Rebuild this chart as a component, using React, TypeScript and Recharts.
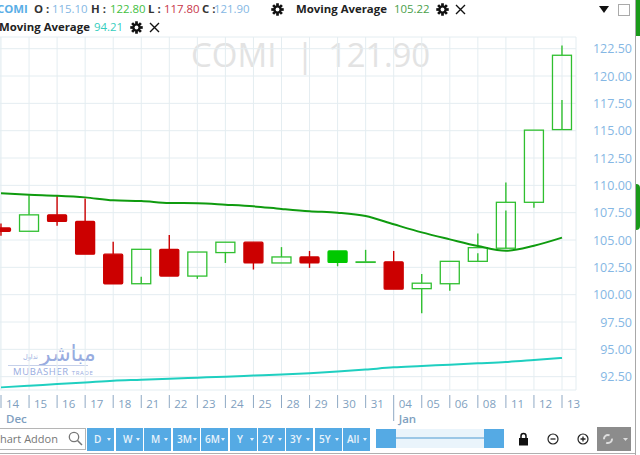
import React from "react";
import { ComposedChart, Bar, Line, XAxis, YAxis, CartesianGrid } from "recharts";

const days = ["14","15","16","17","18","21","22","23","24","25","28","29","30","31","04","05","06","08","11","12","13"];
const opens = [106.1,105.8,107.3,106.7,103.7,101,104.15,101.7,103.85,104.8,102.9,103.45,102.95,103,103,100.55,101,103.05,104.25,108.45,115.1];
const closes = [105.8,107.3,106.7,103.7,101,104.15,101.7,103.9,104.8,102.9,103.45,102.9,104,103,100.5,101.05,103.05,104.3,108.45,115.05,121.9];
const highs = [106.5,109.1,109.1,108.8,104.85,104.15,105.45,103.9,104.8,104.8,104.35,104,104,104.1,104,101.9,103.05,105.6,110.25,115.05,122.8];
const lows = [105.4,105.8,106.3,103.7,101,101,101.7,101.45,102.9,102.3,102.9,102.45,102.6,103,100.5,98.3,100.35,103.05,104.25,107.95,115.1];
const innerWicks = [0,0,0,0,0,101.65,0,0,0,0,0,0,0,0,0,0,0,103.8,107.7,0,117.8];
const maGreen = [109.27,109.14,109.05,108.9,108.63,108.57,108.39,108.36,108.23,108.08,107.84,107.63,107.5,107.2,106.44,105.7,105.06,104.45,104.02,104.48,105.22];
const maTeal = [91.52,91.67,91.82,91.97,92.13,92.22,92.32,92.41,92.5,92.6,92.7,92.82,92.97,93.15,93.35,93.47,93.6,93.72,93.84,94.02,94.21];
const priceTicks = [92.5,95,97.5,100,102.5,105,107.5,110,112.5,115,117.5,120,122.5];
const periods = ["D","W","M","3M","6M","Y","2Y","3Y","5Y","All"];
const periodLefts = [87,116,144,173,201,230,258,286,315,343];
const monthLabels: Record<string, string> = { "14": "Dec", "04": "Jan" };

const data = days.map((d, i) => ({
  day: d,
  range: [lows[i], highs[i]],
  open: opens[i],
  close: closes[i],
  high: highs[i],
  low: lows[i],
  inner: innerWicks[i],
  ma1: maGreen[i],
  ma2: maTeal[i],
  solid: d === "30",
}));

const FONT = "'Open Sans', sans-serif";
const UP = "#2fbf2f";
const DOWN = "#cc0000";
const BLUE = "#85b7e4";

function Candle(props: any) {
  const { x, y, width, height, payload } = props;
  const cx = x + width / 2;
  const unit = height / (payload.high - payload.low);
  const py = (v: number) => y + (payload.high - v) * unit;
  const up = payload.close >= payload.open;
  const color = up ? UP : DOWN;
  const bw = 19;
  const top = py(Math.max(payload.open, payload.close));
  const bottom = py(Math.min(payload.open, payload.close));
  const filled = !up || payload.solid;
  return (
    <g>
      <line x1={cx} x2={cx} y1={py(payload.high)} y2={top} stroke={color} strokeWidth={1.4} />
      <line x1={cx} x2={cx} y1={bottom} y2={py(payload.low)} stroke={color} strokeWidth={1.4} />
      {payload.inner ? (
        <line x1={cx} x2={cx} y1={bottom} y2={py(payload.inner)} stroke={color} strokeWidth={1.4} />
      ) : null}
      <rect
        x={cx - bw / 2}
        y={top}
        width={bw}
        height={Math.max(bottom - top, 0.5)}
        rx={filled ? 1 : 0}
        fill={filled ? (payload.solid ? "#00c800" : DOWN) : "none"}
        stroke={payload.solid ? "#00c800" : color}
        strokeWidth={1.3}
      />
    </g>
  );
}

function DayTick(props: any) {
  const { x, y, payload } = props;
  const month = monthLabels[payload.value];
  return (
    <g>
      <line x1={x} x2={x} y1={y - 3} y2={payload.value === "04" ? y + 23 : y + 10} stroke="#8fa9c4" strokeWidth={1} />
      <text x={x + 5} y={y + 10} fontSize={11.5} fontFamily={FONT} fill="#7f9fc0">{payload.value}</text>
      {month ? (
        <text x={x + 5} y={y + 25} fontSize={11.5} fontWeight={600} fontFamily={FONT} fill="#7f9fc0">{month}</text>
      ) : null}
    </g>
  );
}

function PriceTick(props: any) {
  const { y, payload } = props;
  return (
    <text x={632} y={y + 4.5} textAnchor="end" fontSize={12.5} fontFamily={FONT} fill={BLUE}>
      {payload.value.toFixed(2)}
    </text>
  );
}

const abs = (left: number, top: number, extra: React.CSSProperties = {}): React.CSSProperties => ({
  position: "absolute",
  left,
  top,
  whiteSpace: "nowrap",
  ...extra,
});

function Head({ left, top, color, bold, size = 11.4, children }: any) {
  return (
    <div style={abs(left, top, { color, fontWeight: bold ? 700 : 400, fontSize: size, lineHeight: "16px", fontFamily: FONT })}>
      {children}
    </div>
  );
}

function Gear({ left, top }: { left: number; top: number }) {
  return (
    <svg style={abs(left, top)} width={13} height={13} viewBox="0 0 24 24">
      {[0, 45, 90, 135].map((a) => (
        <rect key={a} x={9.5} y={0.5} width={5} height={23} fill="#111" transform={`rotate(${a} 12 12)`} />
      ))}
      <circle cx={12} cy={12} r={7.5} fill="#111" />
      <circle cx={12} cy={12} r={3.5} fill="#fff" />
    </svg>
  );
}

function Cross({ left, top }: { left: number; top: number }) {
  return (
    <svg style={abs(left, top)} width={11} height={11} viewBox="0 0 11 11">
      <path d="M1 1L10 10M10 1L1 10" stroke="#111" strokeWidth={1.4} />
    </svg>
  );
}

const markStyle: React.CSSProperties = { fontSize: 33, color: "#e3e3e3" };

export default function App() {
  return (
    <div style={{ position: "absolute", left: 0, top: 0, width: 640, height: 455, overflow: "hidden", background: "#fff", fontFamily: FONT }}>
      <div style={abs(191, 32, markStyle)}>COMI</div>
      <div style={abs(296, 32, markStyle)}>|</div>
      <div style={abs(328, 32, { ...markStyle, letterSpacing: -0.2 })}>121.90</div>
      <div style={abs(40, 341, { fontSize: 22, color: "#98ace0", fontFamily: "'DejaVu Sans', sans-serif", lineHeight: "26px" })}>مباشر</div>
      <div style={abs(23, 353, { fontSize: 6.5, color: "#98ace0", fontFamily: "'DejaVu Sans', sans-serif" })}>تداول</div>
      <div style={abs(8, 365, { width: 80, height: 1, background: "#c5d0ea" })} />
      <div style={abs(13, 365, { fontSize: 9.5, color: "#98ace0", letterSpacing: 0.6 })}>
        MUBASHER <span style={{ fontSize: 6 }}>TRADE</span>
      </div>

      <div style={abs(0, 0)}>
        <ComposedChart width={640} height={455} data={data} margin={{ top: 37, right: 0, bottom: 0, left: 0 }}>
          <CartesianGrid stroke="#e4edf1" strokeWidth={1} />
          <XAxis
            dataKey="day"
            scale="point"
            padding={{ left: 1, right: 14 }}
            height={65}
            interval={0}
            axisLine={false}
            tickLine={false}
            tick={<DayTick />}
          />
          <YAxis
            orientation="right"
            width={64}
            domain={[91.28, 123.57]}
            ticks={priceTicks}
            allowDataOverflow
            axisLine={false}
            tickLine={false}
            interval={0}
            tick={<PriceTick />}
          />
          <Bar dataKey="range" barSize={20} shape={<Candle />} isAnimationActive={false} />
          <Line dataKey="ma1" stroke="#0f9b0f" strokeWidth={2} dot={false} type="monotone" isAnimationActive={false} />
          <Line dataKey="ma2" stroke="#1fcfc0" strokeWidth={2} dot={false} type="monotone" isAnimationActive={false} />
        </ComposedChart>
      </div>

      <Head left={-3} top={1} color="#5aaee6" bold>COMI</Head>
      <Head left={34} top={1} color="#333" bold>O :</Head>
      <Head left={52} top={1} color={BLUE}>115.10</Head>
      <Head left={91} top={1} color="#333" bold>H :</Head>
      <Head left={110} top={1} color="#3fc03f">122.80</Head>
      <Head left={148} top={1} color="#333" bold>L :</Head>
      <Head left={164} top={1} color="#c8374a">117.80</Head>
      <Head left={202} top={1} color="#333" bold>C :</Head>
      <Head left={214} top={1} color={BLUE}>121.90</Head>
      <Gear left={271} top={3} />
      <Head left={296} top={1} color="#222" bold>Moving Average</Head>
      <Head left={394} top={1} color="#4aa04a">105.22</Head>
      <Gear left={436} top={3} />
      <Cross left={455} top={4} />
      <Head left={-1} top={19} color="#222" bold>Moving Average</Head>
      <Head left={94} top={19} color="#35cdbd">94.21</Head>
      <Gear left={130} top={21} />
      <Cross left={149} top={22} />

      <svg style={abs(598, 5)} width={12} height={9} viewBox="0 0 12 9"><path d="M1 1H11L6 8Z" fill="#111" /></svg>
      <div style={abs(618, 4, { width: 10, height: 10, border: "1px solid #aaa" })} />

      <div style={abs(635, 0, { width: 1, height: 455, background: "#a8a8a8" })} />
      <div style={abs(636, 0, { width: 4, height: 36, background: "#1a9a1a" })} />
      <div style={abs(636, 184, { width: 4, height: 46, background: "#1a9a1a", borderRadius: "0 24px 24px 0" })} />

      <div style={abs(-10, 428, { width: 94, height: 20, border: "1px solid #b5b5b5" })} />
      <div style={abs(0, 431, { fontSize: 11, color: "#777", lineHeight: "16px" })}>hart Addon</div>
      <svg style={abs(68, 431)} width={15} height={15} viewBox="0 0 15 15">
        <circle cx={6} cy={6} r={4.7} fill="none" stroke="#777" strokeWidth={1.3} />
        <path d="M9.5 9.5L14 14" stroke="#777" strokeWidth={1.5} />
      </svg>

      {periods.map((p, i) => (
        <div key={p} style={abs(periodLefts[i], 428, { width: 27, height: 23, background: "#55aae4", color: "#e8f3fb", fontSize: 10, fontWeight: 600, lineHeight: "23px" })}>
          <span style={{ position: "absolute", left: p.length > 1 ? 4 : 7 }}>{p}</span>
          <span style={{ position: "absolute", left: 20, top: 10, width: 0, height: 0, borderLeft: "2.5px solid transparent", borderRight: "2.5px solid transparent", borderTop: "3px solid #e8f3fb" }} />
        </div>
      ))}

      <div style={abs(376, 429, { width: 128, height: 19, background: "#eaf4fb" })} />
      <div style={abs(396, 437, { width: 88, height: 2, background: "#9cc7e6" })} />
      <div style={abs(376, 429, { width: 20, height: 19, background: "#55aae4" })} />
      <div style={abs(484, 429, { width: 20, height: 19, background: "#55aae4" })} />

      <svg style={abs(518, 432)} width={11} height={14} viewBox="0 0 11 14">
        <path d="M3 6V4a2.5 2.5 0 0 1 5 0V6" fill="none" stroke="#111" strokeWidth={1.5} />
        <rect x={1} y={6} width={9} height={7.5} fill="#111" />
      </svg>
      <svg style={abs(547, 433)} width={12} height={12} viewBox="0 0 12 12">
        <circle cx={6} cy={6} r={5} fill="none" stroke="#222" strokeWidth={1.2} />
        <path d="M3.5 6H8.5" stroke="#222" strokeWidth={1.3} />
      </svg>
      <svg style={abs(577, 433)} width={12} height={12} viewBox="0 0 12 12">
        <circle cx={6} cy={6} r={5} fill="none" stroke="#222" strokeWidth={1.2} />
        <path d="M3.5 6H8.5M6 3.5V8.5" stroke="#222" strokeWidth={1.3} />
      </svg>
      <div style={abs(597, 427, { width: 34, height: 24, background: "#8c8c8c" })} />
      <svg style={abs(602, 433)} width={26} height={12} viewBox="0 0 26 12">
        <circle cx={6} cy={6} r={4} fill="none" stroke="#ddd" strokeWidth={2} strokeDasharray="8 4" />
        <path d="M21 5H26L23.5 8Z" fill="#ddd" />
      </svg>
      <div style={abs(0, 453, { width: 635, height: 1, background: "#b0b0b0" })} />
    </div>
  );
}
